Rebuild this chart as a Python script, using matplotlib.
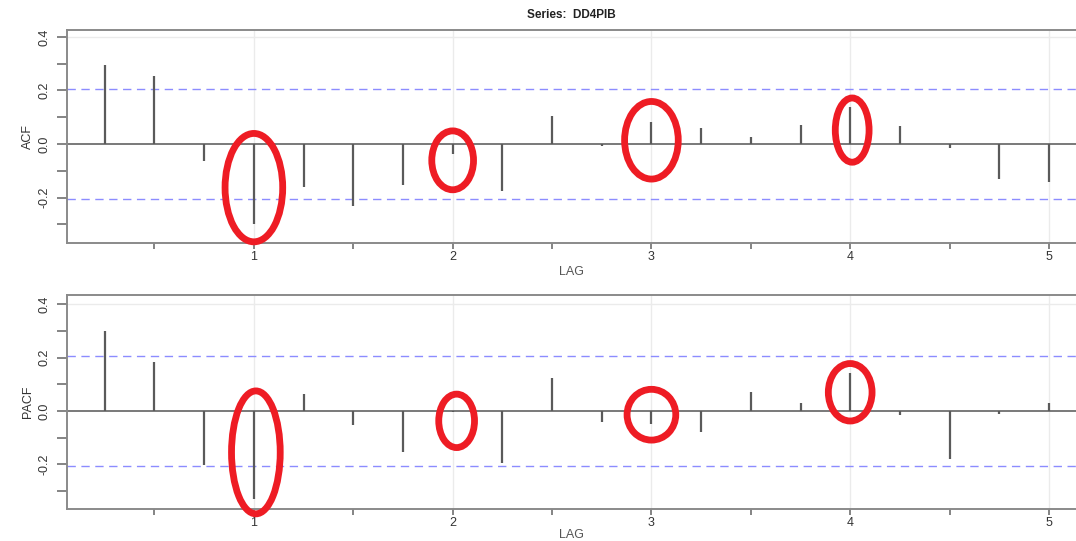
import numpy as np
import matplotlib
matplotlib.use('Agg')
import matplotlib.pyplot as plt
from matplotlib.patches import Ellipse

plt.rcParams['font.family'] = ['Liberation Sans', 'DejaVu Sans']

# lags (in years, quarterly series) and sample correlations
lags = [0.25, 0.5, 0.75, 1.0, 1.25, 1.5, 1.75, 2.0, 2.25, 2.5,
        2.75, 3.0, 3.25, 3.5, 3.75, 4.0, 4.25, 4.5, 4.75, 5.0]
acf_vals = [0.296, 0.255, -0.065, -0.298, -0.162, -0.233, -0.152, -0.037, -0.175, 0.106,
            -0.006, 0.081, 0.058, 0.028, 0.072, 0.137, 0.066, -0.015, -0.130, -0.143]
pacf_vals = [0.300, 0.184, -0.204, -0.331, 0.065, -0.054, -0.154, -0.005, -0.195, 0.125,
             -0.041, -0.047, -0.079, 0.071, 0.031, 0.142, -0.016, -0.181, -0.012, 0.031]
conf = 0.207

# highlighted seasonal lags: (lag, centre y, width, height)
acf_marks = [(1.0, -0.163, 0.29, 0.405), (2.0, -0.061, 0.21, 0.22),
             (3.0, 0.014, 0.27, 0.29), (4.01, 0.052, 0.17, 0.24)]
pacf_marks = [(1.01, -0.155, 0.245, 0.46), (2.02, -0.037, 0.18, 0.20),
              (3.0, -0.014, 0.245, 0.19), (4.0, 0.070, 0.22, 0.215)]

fig = plt.figure(figsize=(10.76, 5.41), dpi=100)
ax1 = fig.add_axes([0.0623, 0.5508, 0.9377, 0.3937])
ax2 = fig.add_axes([0.0623, 0.0591, 0.9377, 0.3956])


def corr_panel(ax, vals, ylabel, ylim, marks, lag_pad=2):
    ax.set_xlim(0.06, 5.136)
    ax.set_ylim(*ylim)
    for g in [1, 2, 3, 4, 5]:
        ax.axvline(g, color='#ebebeb', lw=1, zorder=0)
    ax.axhline(0.4, color='#ebebeb', lw=1, zorder=0)
    ax.axhline(0, color='#555555', lw=1.1, zorder=2)
    ax.vlines(lags, 0, vals, color='#5a5a5a', lw=1.6, zorder=3)
    for c in [conf, -conf]:
        ax.axhline(c, color='#8c8cff', lw=1, ls=(0, (6, 4)), zorder=2)
    for x, y, w, h in marks:
        ax.add_patch(Ellipse((x, y), w, h, fill=False, ec='#ee1c24', lw=4.9,
                             clip_on=False, zorder=5))

    ax.set_xticks([0.5, 1, 1.5, 2, 2.5, 3, 3.5, 4, 4.5, 5])
    ax.set_xticklabels(['', '1', '', '2', '', '3', '', '4', '', '5'])
    ax.set_yticks([-0.3, -0.2, -0.1, 0.0, 0.1, 0.2, 0.3, 0.4])
    ax.set_yticklabels(['', '-0.2', '', '0.0', '', '0.2', '', '0.4'],
                       rotation=90, va='center')
    ax.tick_params(axis='both', colors='#707070', labelcolor='#333333',
                   labelsize=9, width=1.2)
    ax.tick_params(axis='x', pad=2, length=4)
    ax.tick_params(axis='y', pad=5, length=7)
    for s in ['top', 'left', 'bottom']:
        ax.spines[s].set_color('#8a8a8a')
        ax.spines[s].set_linewidth(1.4)
    ax.spines['right'].set_visible(False)
    ax.set_ylabel(ylabel, fontsize=9, color='#333333', labelpad=3)
    ax.set_xlabel('LAG', fontsize=9, color='#555555', labelpad=lag_pad)


corr_panel(ax1, acf_vals, 'ACF', (-0.37, 0.426), acf_marks)
corr_panel(ax2, pacf_vals, 'PACF', (-0.367, 0.434), pacf_marks, lag_pad=0)
ax1.set_title('Series:  DD4PIB', fontsize=8.5, fontweight='bold', color='#222222', pad=9)

fig.savefig('out.png', dpi=100)
